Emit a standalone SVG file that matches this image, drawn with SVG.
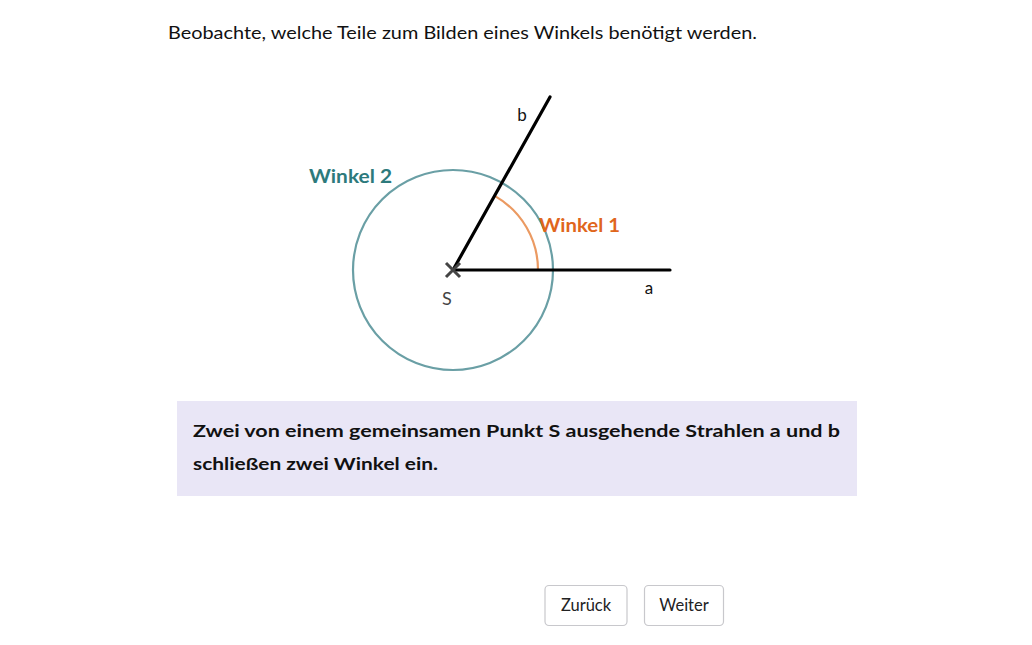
<svg xmlns="http://www.w3.org/2000/svg" width="1032" height="645" viewBox="0 0 1032 645">
<style>
text{font-family:"Lato","DejaVu Sans",sans-serif;}
.t{font-size:18px;fill:#111;}
.lbl{font-size:17px;fill:#111;}
.b{font-weight:bold;font-size:17.5px;fill:#111;}
.btn{fill:#fff;stroke:#c8c8cc;stroke-width:1.2;}
.bt{font-size:16.5px;fill:#222;text-anchor:middle;}
.ray{stroke:#000;stroke-width:3.2;stroke-linecap:round;fill:none;}
</style>
<rect width="1032" height="645" fill="#fff"/>
<text class="t" x="168" y="39" textLength="589" lengthAdjust="spacingAndGlyphs">Beobachte, welche Teile zum Bilden eines Winkels benötigt werden.</text>
<g id="winkel2">
<circle cx="453" cy="270" r="100" fill="none" stroke="#6a9fa5" stroke-width="2.2"/>
<text x="309" y="183" font-weight="bold" font-size="18" fill="#2d7a7c" textLength="83" lengthAdjust="spacingAndGlyphs">Winkel 2</text>
</g>
<g id="winkel1">
<path d="M538,270 A85,85 0 0 0 495.5,196.4" fill="none" stroke="#eb9a62" stroke-width="2.2"/>
<text x="539" y="232" font-weight="bold" font-size="18" fill="#e0661c" textLength="81" lengthAdjust="spacingAndGlyphs">Winkel 1</text>
</g>
<g id="connectors">
<line id="ray-a" class="ray" x1="453" y1="270" x2="670" y2="270"/>
<line id="ray-b" class="ray" x1="453" y1="270" x2="550" y2="97"/>
</g>
<g id="S">
<path d="M446,263 L460,277 M460,263 L446,277" stroke="#444" stroke-width="3" fill="none"/>
<text x="447" y="305" font-size="18" fill="#444" text-anchor="middle">S</text>
</g>
<text class="lbl" x="522" y="121" text-anchor="middle">b</text>
<text class="lbl" x="649" y="294" text-anchor="middle">a</text>
<g id="info">
<rect x="177" y="401" width="680" height="95" fill="#e9e6f6"/>
<text class="b" x="193" y="437" textLength="647" lengthAdjust="spacingAndGlyphs">Zwei von einem gemeinsamen Punkt S ausgehende Strahlen a und b</text>
<text class="b" x="193" y="470" textLength="245" lengthAdjust="spacingAndGlyphs">schließen zwei Winkel ein.</text>
</g>
<g id="btn-zurueck">
<rect class="btn" x="545" y="585.5" width="82" height="40" rx="4"/>
<text class="bt" x="586" y="611">Zurück</text>
</g>
<g id="btn-weiter">
<rect class="btn" x="644.5" y="585.5" width="79" height="40" rx="4"/>
<text class="bt" x="684" y="611">Weiter</text>
</g>
</svg>
